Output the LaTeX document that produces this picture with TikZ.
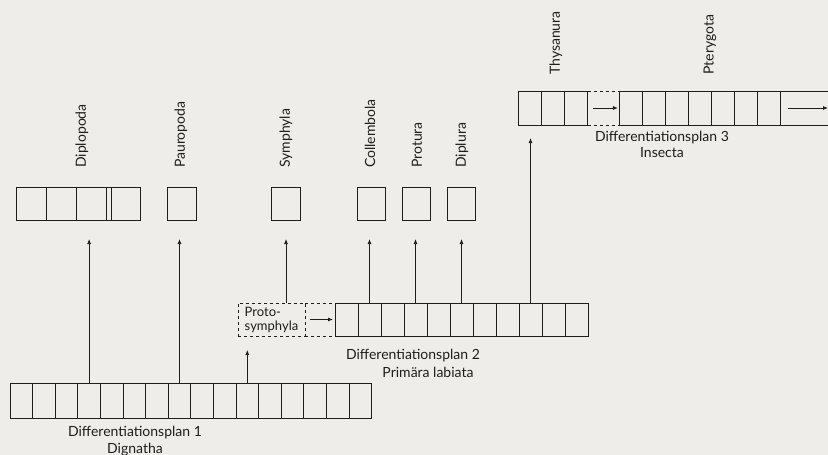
\documentclass[tikz,border=0pt]{standalone}
\usepackage{fontspec}
\setmainfont{Lato}
\usetikzlibrary{arrows.meta,positioning}
\definecolor{paper}{RGB}{239,237,233}
\definecolor{ink}{RGB}{30,30,30}

\begin{document}
\begin{tikzpicture}[x=1pt, y=-1pt,
    cell/.style = {draw=ink, line width=1pt, minimum width=22.6pt, minimum height=34pt, inner sep=0pt, outer sep=0pt},
    single/.style = {cell, minimum width=29pt, minimum height=33pt},
    taxon/.style = {rotate=90, anchor=west, inner sep=0pt, text=ink, font=\fontsize{14}{16}\selectfont},
    plan/.style = {inner sep=0pt, text=ink, font=\fontsize{14}{16}\selectfont},
    up/.style = {draw=ink, line width=0.75pt, -{Latex[length=5pt,width=4pt]}}]

    \fill[paper] (0,0) rectangle (828,455);
    \useasboundingbox (0,0) rectangle (828,455);

    % Differentiationsplan 1
    \foreach \i in {1,...,16}
        \node[cell, minimum height=35pt] (a\i) at ({21.3+(\i-1)*22.6}, 400.5) {};
    \node[plan] (p1) at (135,433) {Differentiationsplan 1};
    \node[plan, below=3pt of p1] (p1b) {Dignatha};

    % Differentiationsplan 2
    \node[draw=ink, dashed, line width=0.9pt, minimum width=67pt, minimum height=33pt, inner sep=1.5pt, outer sep=0pt, align=left, text=ink, font=\fontsize{13}{14}\selectfont] (proto) at (271.5,319.5) {Proto-\\symphyla};
    \foreach \i in {1,...,11}
        \node[cell, minimum width=23pt, minimum height=33pt] (b\i) at ({346.5+(\i-1)*23}, 319.5) {};
    \draw[ink, dashed, line width=0.9pt] (proto.north east) -- (b1.north west);
    \draw[ink, dashed, line width=0.9pt] (proto.south east) -- (b1.south west);
    \draw[up, shorten <=5pt, shorten >=2pt] (proto.east) -- (b1.west);
    \node[plan] (p2) at (413,356) {Differentiationsplan 2};
    \node[plan] (p2b) at (428,372) {Primära labiata};

    % Differentiationsplan 3
    \foreach \i in {1,2,3}
        \node[cell, minimum width=23.3pt] (c\i) at ({529.7+(\i-1)*23.3}, 108) {};
    \foreach \i in {1,...,7}
        \node[cell, minimum width=22.9pt] (d\i) at ({631.4+(\i-1)*22.9}, 108) {};
    \coordinate (edge) at (828,108);
    \draw[ink, line width=1pt] (d7.north east) -- (d7.north east -| edge);
    \draw[ink, line width=1pt] (d7.south east) -- (d7.south east -| edge);
    \draw[ink, dashed, line width=0.9pt] (c3.north east) -- (d1.north west);
    \draw[ink, dashed, line width=0.9pt] (c3.south east) -- (d1.south west);
    \draw[up, shorten <=5pt, shorten >=2pt] (c3.east) -- (d1.west);
    \draw[up, shorten <=8pt] (d7.east) -- (edge);
    \node[plan] (p3) at (662,138) {Differentiationsplan 3};
    \node[plan, below=3pt of p3] (p3b) {Insecta};

    % Endgrupper
    \foreach \i in {1,2,3}
        \node[cell, minimum width=29.7pt, minimum height=33pt] (e\i) at ({31.8+(\i-1)*29.7}, 204) {};
    \node[cell, minimum width=34pt, minimum height=33pt] (e4) at (123,204) {};
    \draw[ink, line width=1pt] ([xshift=5pt]e4.north west) -- ([xshift=5pt]e4.south west);
    \node[single] (pauro) at (182,204) {};
    \node[single] (symph) at (286,204) {};
    \node[single, minimum width=28pt] (coll) at (371,204) {};
    \node[single, minimum width=28pt] (protu) at (416,204) {};
    \node[single, minimum width=28pt] (dipl) at (461,204) {};

    \node[taxon] at (82,168) {Diplopoda};
    \node[taxon] at (181,168) {Pauropoda};
    \node[taxon] at (286,168) {Symphyla};
    \node[taxon] at (370,168) {Collembola};
    \node[taxon] at (417,168) {Protura};
    \node[taxon] at (462,168) {Diplura};
    \node[taxon] at (556,75) {Thysanura};
    \node[taxon] at (710,75) {Pterygota};

    % pilar
    \coordinate (tip) at (0,239);
    \draw[up] (a4.north) -- (a4.north |- tip);
    \draw[up] (a8.north) -- (a8.north |- tip);
    \draw[up] (a11.north) -- (a11.north |- 0,350);
    \draw[up] (proto.north -| symph) -- (symph.south |- tip);
    \draw[up] (b2.north) -- (b2.north |- tip);
    \draw[up] (b4.north) -- (b4.north |- tip);
    \draw[up] (b6.north) -- (b6.north |- tip);
    \draw[up] (b9.north) -- (b9.north |- 0,138);
\end{tikzpicture}
\end{document}
